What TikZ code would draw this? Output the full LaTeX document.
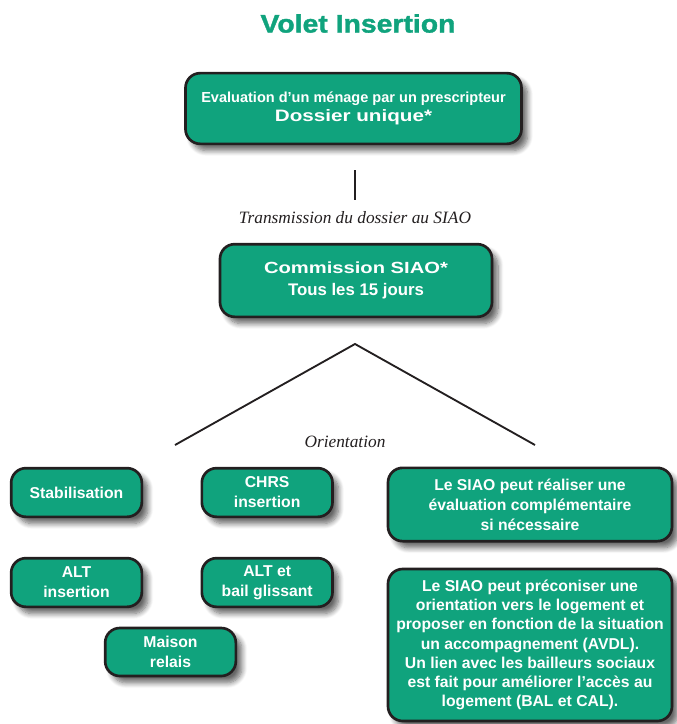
\documentclass[tikz,border=0pt]{standalone}
\usepackage{fontspec}
\setmainfont{Liberation Sans}
\newfontfamily\serifit{Liberation Serif}
\usetikzlibrary{positioning,shadows.blur}
\definecolor{siaogroen}{RGB}{16,163,125}
\definecolor{kant}{RGB}{35,31,32}
\newcommand{\bred}{\addfontfeature{FakeStretch=1.25}}
\tikzset{
    boks/.style={
           rounded corners=11pt,
           draw=kant, line width=2pt,
           fill=siaogroen,
           text=white,
           font=\bfseries\fontsize{11.8}{15}\selectfont,
           align=center,
           inner sep=0pt,
           blur shadow={shadow xshift=4.5pt, shadow yshift=-5pt,
                        shadow blur steps=8, shadow blur radius=4pt,
                        shadow opacity=60}},
    lille/.style={
           boks,
           minimum width=98pt,
           minimum height=36.5pt},
    linje/.style={
           line width=1.4pt,
           draw=kant},
    note/.style={
           font=\serifit\itshape\fontsize{13}{15}\selectfont,
           text=kant}
}

\begin{document}
\begin{tikzpicture}[x=0.75pt, y=-0.75pt]
        \useasboundingbox (0,0) rectangle (676,724);

        \node[text=siaogroen, font=\bfseries\fontsize{19}{21}\selectfont\addfontfeature{FakeStretch=1.12,FakeBold=1.5}] (titel) at (358,23.5) {Volet Insertion};

        \node[boks, minimum width=252pt, minimum height=53pt] (eval) at (353.5,108.5)
            {{\fontsize{10.9}{14}\selectfont Evaluation d'un ménage par un prescripteur}\\[-1pt]{\fontsize{12.4}{14}\selectfont\bred Dossier unique*}};
        \node[boks, minimum width=204pt, minimum height=54.5pt] (komm) at (356,280.5)
            {{\fontsize{12.1}{15}\selectfont\bred Commission SIAO*}\\[2pt]{\fontsize{12.6}{15}\selectfont Tous les 15 jours}};

        \node[lille] (stab) at (76.5,492.5) {Stabilisation};
        \node[lille, right=43pt of stab] (chrs) {CHRS\\insertion};
        \node[lille, below=29pt of stab] (altins) {ALT\\insertion};
        \node[lille, below=29pt of chrs] (altbail) {ALT et\\bail glissant};
        \node[lille, minimum height=36pt] (maison) at (170.5,652) {Maison\\relais};

        \node[boks, minimum width=213pt, minimum height=55pt] (eval2) at (530,504.5)
            {Le SIAO peut réaliser une\\évaluation complémentaire\\si nécessaire};
        \node[boks, minimum width=213pt, minimum height=114pt, font=\bfseries\fontsize{11.8}{14.4}\selectfont] (preco) at (530,645)
            {Le SIAO peut préconiser une\\orientation vers le logement et\\proposer en fonction de la situation\\un accompagnement (AVDL).\\Un lien avec les bailleurs sociaux\\est fait pour améliorer l'accès au\\logement (BAL et CAL).};

        \coordinate (v1) at (355,170);
        \coordinate (v2) at (355,200);
        \node[note] (trans) at (355,218) {Transmission du dossier au SIAO};
        \coordinate (top) at (355,344);
        \coordinate (venstre) at (175,445);
        \coordinate (hoejre) at (535,445);
        \node[note] (orient) at (345,442) {Orientation};

        \draw[linje] (v1) -- (v2);
        \draw[linje] (venstre) -- (top) -- (hoejre);
    \end{tikzpicture}
\end{document}
